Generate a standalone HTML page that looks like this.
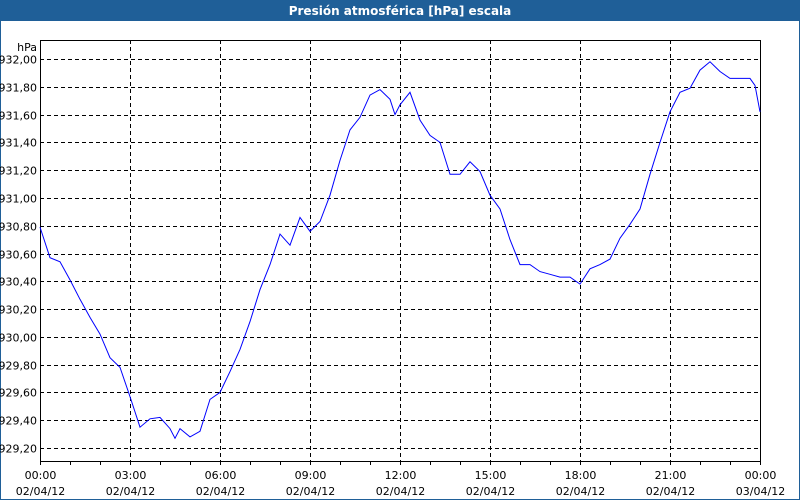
<!DOCTYPE html>
<html><head><meta charset="utf-8"><style>
html,body{margin:0;padding:0;width:800px;height:500px;overflow:hidden;background:#fff;font-family:Tahoma,"DejaVu Sans","Liberation Sans",sans-serif;}
#frame{position:absolute;left:0;top:0;width:798px;height:498px;border:1px solid #1f5f98;}
#title{position:absolute;left:0;top:0;width:800px;height:21px;background:#1f5f98;color:#fff;font-weight:bold;font-size:12px;text-align:center;line-height:22px;}
svg{position:absolute;left:0;top:0;}
text{font-family:Tahoma,"DejaVu Sans","Liberation Sans",sans-serif;font-size:11px;fill:#000;}
</style></head><body>
<div id="frame"></div>
<div id="title">Presión atmosférica [hPa] escala</div>
<svg id="chart" width="800" height="500"></svg>
<script>
const hours=[0,0.333,0.667,1,1.333,1.667,2,2.333,2.667,3,3.333,3.667,4,4.333,4.5,4.667,5,5.333,5.667,6,6.333,6.667,7,7.333,7.667,8,8.333,8.667,9,9.333,9.667,10,10.333,10.667,11,11.333,11.667,11.833,12,12.333,12.667,13,13.333,13.667,14,14.333,14.667,15,15.333,15.667,16,16.333,16.667,17,17.333,17.667,18,18.333,18.667,19,19.333,19.667,20,20.333,20.667,21,21.333,21.667,22,22.333,22.667,23,23.333,23.667,23.833,24];
const pressure=[930.79,930.57,930.54,930.41,930.27,930.14,930.02,929.85,929.78,929.57,929.35,929.41,929.42,929.34,929.27,929.34,929.28,929.32,929.55,929.60,929.75,929.91,930.11,930.34,930.52,930.74,930.66,930.86,930.76,930.83,931.02,931.27,931.49,931.58,931.74,931.78,931.71,931.60,931.67,931.76,931.56,931.45,931.40,931.17,931.17,931.26,931.19,931.02,930.92,930.70,930.52,930.52,930.47,930.45,930.43,930.43,930.38,930.49,930.52,930.56,930.71,930.81,930.92,931.17,931.40,931.62,931.76,931.79,931.92,931.98,931.91,931.86,931.86,931.86,931.81,931.62];
const yTicks=["929,20","929,40","929,60","929,80","930,00","930,20","930,40","930,60","930,80","931,00","931,20","931,40","931,60","931,80","932,00"];
const xTicks=["00:00","03:00","06:00","09:00","12:00","15:00","18:00","21:00","00:00"];
const xDates=["02/04/12","02/04/12","02/04/12","02/04/12","02/04/12","02/04/12","02/04/12","02/04/12","03/04/12"];
const L=40,R=760,T=40,B=461,yMin=929.2,yMax=932.0,yTop=59,yBot=448;
const xs=h=>L+h/24*(R-L);
const ys=v=>yBot-(v-yMin)/(yMax-yMin)*(yBot-yTop);
const svg=document.getElementById('chart');const NS='http://www.w3.org/2000/svg';
function mk(t,a){const e=document.createElementNS(NS,t);for(const k in a)e.setAttribute(k,a[k]);svg.appendChild(e);return e;}
yTicks.forEach((t,i)=>{const v=yMin+i*0.2;const y=Math.round(ys(v))+0.5;
const g=mk('line',{x1:L,x2:R,y1:y,y2:y,stroke:'#000','stroke-dasharray':'4,3'});


const tx=mk('text',{x:L-3,y:y+4,'text-anchor':'end'});tx.textContent=t;

});
xTicks.forEach((t,i)=>{const x=Math.round(xs(i*3))+0.5;
if(i>0&&i<8){const g=mk('line',{x1:x,x2:x,y1:T,y2:B,stroke:'#000','stroke-dasharray':'4,3'});

}
const a=mk('text',{x:x,y:479,'text-anchor':'middle'});a.textContent=t;


const b=mk('text',{x:x,y:495,'text-anchor':'middle'});b.textContent=xDates[i];

});
for(let h=0;h<=24;h++){const x=Math.round(xs(h))+0.5;const m=mk('line',{x1:x,x2:x,y1:B,y2:B+4,stroke:'#000'});

}
const box=mk('rect',{x:L+0.5,y:T+0.5,width:R-L,height:B-T,fill:'none',stroke:'#000'});


const u=mk('text',{x:L-3,y:51,'text-anchor':'end'});u.textContent='hPa';


const pts=hours.map((h,i)=>xs(h).toFixed(1)+','+ys(pressure[i]).toFixed(1)).join(' ');
const pl=mk('polyline',{points:pts,fill:'none',stroke:'#0000ff','stroke-width':1});


</script>
</body></html>
